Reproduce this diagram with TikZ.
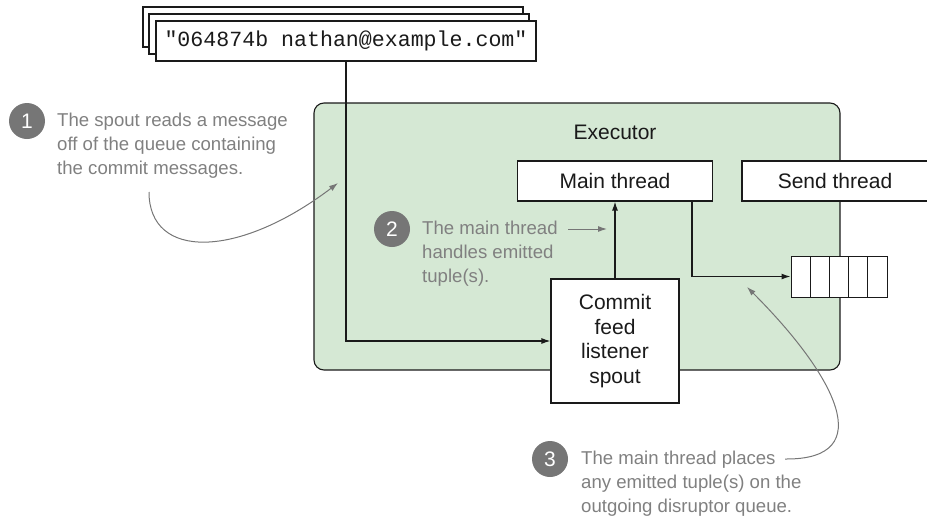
\documentclass[tikz,border=0pt]{standalone}
\usepackage{fontspec}
\setmainfont{Liberation Sans}
\setmonofont{Liberation Mono}
\usetikzlibrary{arrows.meta,positioning}
\definecolor{ink}{HTML}{1A1A1A}
\definecolor{execgreen}{HTML}{D5E8D4}
\definecolor{callgray}{HTML}{767676}
\definecolor{notegray}{HTML}{808080}
\tikzset{
  >={Latex[length=9pt,width=6pt]},
  every node/.style={text=ink},
  comp/.style={draw=ink,fill=white,line width=1.1pt,align=center,inner sep=0pt,font=\fontsize{21}{24.5}\selectfont},
  msgbox/.style={comp,minimum width=380pt,minimum height=40pt,font=\ttfamily\fontsize{21.6}{24}\selectfont},
  executor/.style={draw=ink,fill=execgreen,rounded corners=10pt,line width=1.1pt,inner sep=0pt},
  cell/.style={draw=ink,fill=white,line width=1pt,minimum width=19.2pt,minimum height=41pt,inner sep=0pt},
  num/.style={circle,fill=callgray,minimum size=36pt,inner sep=0pt,text=white,font=\fontsize{21}{21}\selectfont},
  note/.style={align=left,inner sep=0pt,text=notegray,font=\fontsize{18.6}{24}\selectfont},
  arrow/.style={->,line width=1.2pt,draw=ink},
  callarr/.style={->,line width=1pt,draw=callgray}
}
\begin{document}
\begin{tikzpicture}[x=1pt,y=-1pt]
  \useasboundingbox (0,0) rectangle (927,520);
  % executor container
  \node[executor,minimum width=526pt,minimum height=267pt] (exec) at (577,236.5) {};
  \node[font=\fontsize{21}{24}\selectfont] (exlabel) at (615,132) {Executor};

  % stacked queue messages
  \node[msgbox] (msgback) at (333,27) {};
  \node[msgbox] (msgmid) at (339,34) {};
  \node[msgbox] (msg) at (346,41) {"064874b nathan@example.com"};

  \node[comp,minimum width=195pt,minimum height=40pt] (main) at (615,181) {Main thread};
  \node[comp,minimum width=186pt,minimum height=40pt] (send) at (835,181) {Send thread};
  \node[comp,minimum width=128pt,minimum height=124pt] (spout) at (615,341) {Commit\\feed\\listener\\spout};

  % disruptor queue
  \foreach \i in {1,...,5}
    \node[cell] (q\i) at ({781.4+19.2*\i},276.5) {};

  % callouts
  \node[num] (n1) at (27,121) {1};
  \node[note,anchor=west] (t1) at (57,146) {The spout reads a message\\off of the queue containing\\the commit messages.};
  \node[num] (n2) at (392,229) {2};
  \node[note,anchor=west] (t2) at (422,254) {The main thread\\handles emitted\\tuple(s).};
  \node[num] (n3) at (550,459) {3};
  \node[note,anchor=west] (t3) at (581,484) {The main thread places\\any emitted tuple(s) on the\\outgoing disruptor queue.};

  \coordinate (a1s) at (149,192);
  \coordinate (a1e) at (338,183);
  \coordinate (a2s) at (568,229);
  \coordinate (a2e) at (607,229);
  \coordinate (a3s) at (785,459);
  \coordinate (a3e) at (747,287);

  \draw[arrow] (msg.south) |- (spout.west);
  \draw[arrow] (spout.north) -- (main.south);
  \draw[arrow] ([xshift=77pt]main.south) |- (q1.west);

  \draw[callarr] (a1s) .. controls (149,260) and (238,259) .. (a1e);
  \draw[callarr] (a2s) -- (a2e);
  \draw[callarr] (a3s) .. controls (880,460) and (835,375) .. (a3e);
\end{tikzpicture}
\end{document}
